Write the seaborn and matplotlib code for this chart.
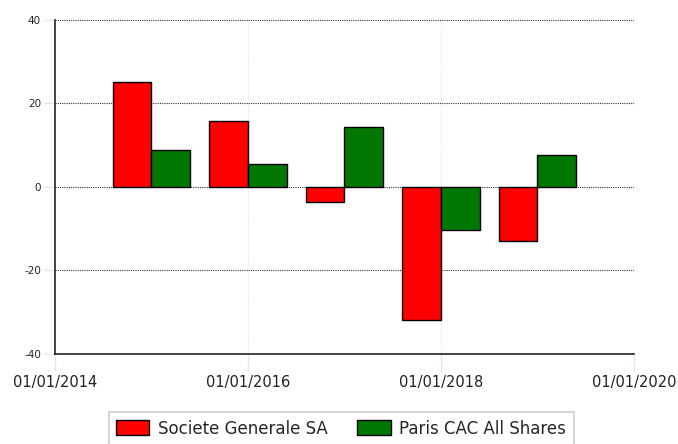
import matplotlib
matplotlib.use("Agg")
import matplotlib.pyplot as plt
import seaborn as sns
import pandas as pd

# yearly returns (%), bars centred on 1 January of each year
years = [2015, 2016, 2017, 2018, 2019]
socgen = [25.1, 15.8, -3.6, -31.9, -12.9]
cac = [8.9, 5.5, 14.4, -10.3, 7.7]
series_names = ["Societe Generale SA", "Paris CAC All Shares"]
tick_years = [2014, 2016, 2018, 2020]
tick_labels = ["01/01/%d" % y for y in tick_years]

data = pd.DataFrame({
	"Year": years * 2,
	"Return": socgen + cac,
	"Series": [series_names[0]] * len(years) + [series_names[1]] * len(years),
})

sns.set_style("white")
plt.rcParams['font.family'] = ['DejaVu Sans']

fig = plt.figure(figsize=(6.78, 4.44), dpi=100)
ax = fig.add_axes([0.081, 0.203, 0.854, 0.752])

ax = sns.barplot(
	data=data, x="Year", y="Return", hue="Series",
	palette={series_names[0]: "#ff0000", series_names[1]: "#007700"},
	native_scale=True, width=0.8, edgecolor="black", linewidth=1,
	saturation=1, ax=ax, legend=True
)

ax.set_xlim(2014, 2020)
ax.set_ylim(-40, 40)
ax.set_xticks(tick_years)
ax.set_xticklabels(tick_labels, fontsize=10.5, color="#222222")
ax.set_yticks([-40, -20, 0, 20, 40])
ax.set_yticklabels(["-40", "-20", "0", "20", "40"], fontsize=7.5, color="#222222")
ax.set_xlabel("")
ax.set_ylabel("")

# dotted horizontal grid, faint vertical grid
for yv in [-20, 0, 20, 40]:
	ax.axhline(yv, color="#333333", linestyle=(0, (1, 1)), linewidth=0.8, zorder=0.5)
for xv in [2016, 2018, 2020]:
	ax.axvline(xv, color="#dde8f5", linestyle=(0, (1, 1)), linewidth=0.9, zorder=0.4)

ax.tick_params(axis="both", which="both", bottom=True, left=True,
	length=8, color="#dde8f5", width=1, pad=2)
ax.tick_params(axis="x", length=12, pad=3)

for side in ["top", "right"]:
	ax.spines[side].set_visible(False)
for side in ["left", "bottom"]:
	ax.spines[side].set_color("#222222")
	ax.spines[side].set_linewidth(1.2)

handles, labels = ax.get_legend_handles_labels()
ax.get_legend().remove()
leg = fig.legend(
	handles, labels, loc="upper center", bbox_to_anchor=(0.503, 0.072),
	ncol=2, fontsize=12, frameon=True, fancybox=False,
	handlelength=2.0, handleheight=1.0, handletextpad=0.5, columnspacing=1.8,
	borderpad=0.45, borderaxespad=0, edgecolor="#cccccc"
)
leg.get_frame().set_linewidth(1.5)

fig.savefig("out.png", dpi=100)
